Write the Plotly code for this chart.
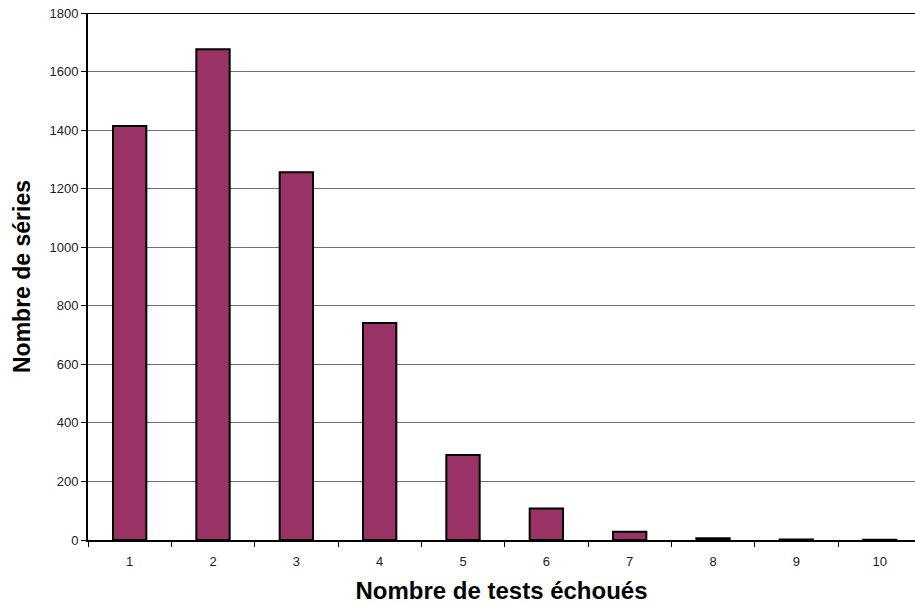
import plotly.graph_objects as go

# Number of failed tests per series and how many series had that count
failed_tests = [1, 2, 3, 4, 5, 6, 7, 8, 9, 10]
series_counts = [1414, 1676, 1256, 741, 290, 108, 28, 6, 2, 1]
tick_labels = [str(v) for v in failed_tests]

fig = go.Figure(
    go.Bar(
        x=failed_tests,
        y=series_counts,
        width=0.4,
        marker=dict(color="#993366", line=dict(color="black", width=2)),
    )
)

fig.update_layout(
    width=915,
    height=606,
    margin=dict(l=88, r=0, t=13, b=66),
    plot_bgcolor="white",
    paper_bgcolor="white",
    showlegend=False,
    font=dict(family="Arial, Liberation Sans, sans-serif", color="black"),
    shapes=[
        dict(type="line", xref="paper", yref="y", x0=0, x1=1, y0=1800, y1=1800,
             line=dict(color="black", width=2)),
    ],
)

fig.update_xaxes(
    range=[0.5, 10.424],
    tickvals=failed_tests,
    ticktext=tick_labels,
    ticks="",
    ticklabelstandoff=8,
    tickfont=dict(size=13, color="#222"),
    showline=True,
    linecolor="black",
    linewidth=2,
    showgrid=False,
    zeroline=False,
    minor=dict(tickvals=[i + 0.5 for i in range(0, 11)], ticks="outside",
               ticklen=5, tickcolor="black", tickwidth=1, showgrid=False),
    title=dict(text="<b>Nombre de tests échoués</b>", font=dict(size=24), standoff=15),
)

fig.update_yaxes(
    range=[0, 1800],
    dtick=200,
    ticks="outside",
    ticklen=5,
    tickcolor="black",
    tickfont=dict(size=13, color="#222"),
    showline=True,
    linecolor="black",
    linewidth=2,
    showgrid=True,
    gridcolor="#707070",
    gridwidth=1,
    zeroline=False,
    title=dict(text="<b>Nombre de séries</b>", font=dict(size=23), standoff=12),
)

fig.write_html("out.html")
